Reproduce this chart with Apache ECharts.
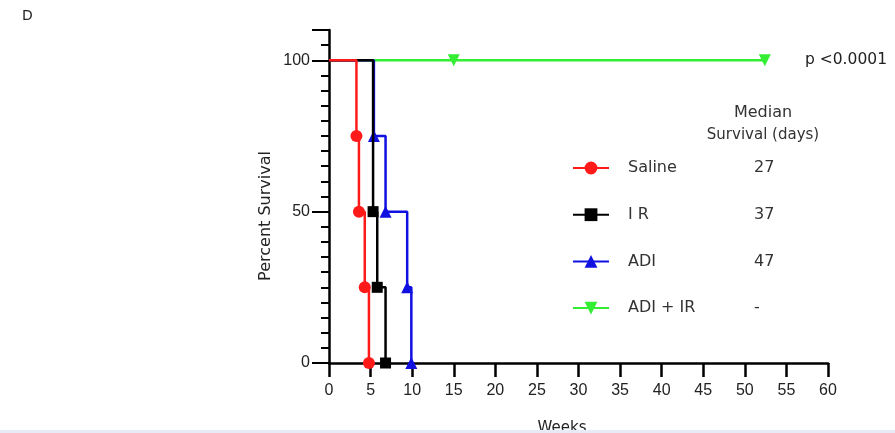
<!DOCTYPE html>
<html><head><meta charset="utf-8">
<script src="https://cdn.jsdelivr.net/npm/echarts@6/dist/echarts.min.js"></script>
<style>html,body{margin:0;padding:0;background:#fff}#c{width:895px;height:433px}</style>
</head><body><div id="c"></div>
<script>
const groups = ['Saline', 'I R', 'ADI', 'ADI + IR'];
const medians = ['27', '37', '47', '-'];
const colors = ['#ff1a1a', '#000000', '#1010e0', '#33ee33'];
const salineT = [0, 3.3, 3.6, 4.3, 4.8];
const salineS = [100, 75, 50, 25, 0];
const irT = [0, 5.3, 5.8, 6.8];
const irS = [100, 50, 25, 0];
const adiT = [0, 5.4, 6.8, 9.4, 9.9];
const adiS = [100, 75, 50, 25, 0];
const comboT = [0, 15, 52.4];
const comboS = [100, 100, 100];
const xTicks = [0, 5, 10, 15, 20, 25, 30, 35, 40, 45, 50, 55, 60];
const yLabels = [0, 50, 100];

function pts(t, s) { return t.map((x, i) => i === 0 ? {value: [x, s[i]], symbol: 'none'} : [x, s[i]]); }
const symbols = ['circle', 'rect', 'triangle', 'path://M0,0 L10,0 L5,9 Z'];
const sizes = [12, 11, 12, 12];
const datas = [pts(salineT, salineS), pts(irT, irS), pts(adiT, adiS), pts(comboT, comboS)];
const order = [3, 2, 1, 0];
const series = order.map(i => ({
  name: groups[i], type: 'line', step: 'end', data: datas[i],
  symbol: symbols[i], symbolSize: sizes[i], showAllSymbol: true,
  lineStyle: {color: colors[i], width: 2.5}, itemStyle: {color: colors[i]},
  z: 10 - i, animation: false
}));
const chart = echarts.init(document.getElementById('c'));
const tf = 'Liberation Sans, Arial, sans-serif';
const wf = 'DejaVu Sans, sans-serif';
chart.setOption({
  animation: false,
  grid: {left: 329, right: 67, top: 30, bottom: 70, outerBoundsMode: 'none', containLabel: false},
  xAxis: {type: 'value', min: 0, max: 60, interval: 5,
    axisLine: {lineStyle: {color: '#000', width: 2.5}},
    axisTick: {length: 14, lineStyle: {color: '#000', width: 2.5}},
    axisLabel: {fontFamily: tf, fontSize: 16, color: '#222', margin: 20,
      formatter: v => xTicks.includes(v) ? String(v) : ''},
    splitLine: {show: false}},
  yAxis: [{type: 'value', min: 0, max: 110, interval: 5, position: 'left',
    axisLine: {show: true, lineStyle: {color: '#000', width: 2.5}},
    axisTick: {show: true, length: 8, lineStyle: {color: '#000', width: 2}},
    axisLabel: {fontFamily: tf, fontSize: 16, color: '#222', margin: 19,
      formatter: v => yLabels.includes(v) ? String(v) : ''},
    splitLine: {show: false}},
   {type: 'value', min: 0, max: 110, interval: 50, position: 'left', offset: 0,
    axisLine: {show: false},
    axisTick: {show: true, length: 17, lineStyle: {color: '#000', width: 2}},
    axisLabel: {show: false}, splitLine: {show: false}}],
  legend: {orient: 'vertical', left: 567, top: 155, itemWidth: 36, itemHeight: 16, itemGap: 30.7,
    data: groups, selectedMode: false,
    formatter: name => '{n|' + name + '}{v|' + medians[groups.indexOf(name)] + '}',
    textStyle: {fontFamily: wf, fontSize: 16, color: '#333',
      rich: {n: {width: 126, padding: [0, 0, 0, 14], fontFamily: wf, fontSize: 16, color: '#333', lineHeight: 16},
             v: {fontFamily: wf, fontSize: 16, color: '#333', lineHeight: 16}}}},
  graphic: [
    {type: 'text', x: 22, y: 16, style: {text: 'D', font: '14px ' + wf, fill: '#222', textVerticalAlign: 'middle'}},
    {type: 'text', x: 805, y: 60, style: {text: 'p <0.0001', font: '15.5px ' + wf, fill: '#222', textVerticalAlign: 'middle'}},
    {type: 'text', x: 763, y: 113, style: {text: 'Median', font: '16px ' + wf, fill: '#333', textAlign: 'center', textVerticalAlign: 'middle'}},
    {type: 'text', x: 763, y: 135, style: {text: 'Survival (days)', font: '15px ' + wf, fill: '#333', textAlign: 'center', textVerticalAlign: 'middle'}},
    {type: 'text', x: 266, y: 216, rotation: Math.PI / 2,
      style: {text: 'Percent Survival', font: '16px ' + wf, fill: '#222', textAlign: 'center', textVerticalAlign: 'middle'}},
    {type: 'text', x: 562, y: 428, style: {text: 'Weeks', font: '15px ' + wf, fill: '#222', textAlign: 'center', textVerticalAlign: 'middle'}},
    {type: 'rect', left: 0, top: 430, shape: {width: 895, height: 3}, style: {fill: '#e8eaf6'}, z: 100}
  ],
  series: series
});
</script></body></html>
